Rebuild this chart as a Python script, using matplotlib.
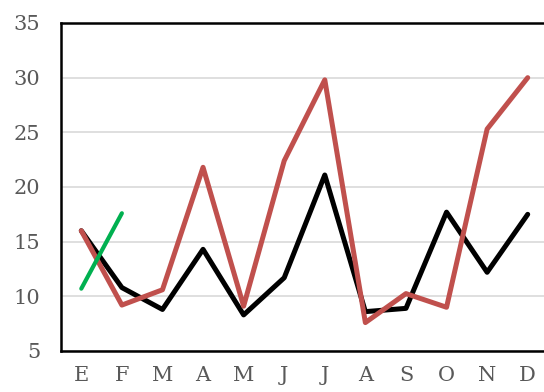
import matplotlib.pyplot as plt

months = ['E', 'F', 'M', 'A', 'M', 'J', 'J', 'A', 'S', 'O', 'N', 'D']
black_vals = [16.0, 10.8, 8.8, 14.3, 8.3, 11.7, 21.1, 8.6, 8.9, 17.7, 12.2, 17.5]
red_vals = [16.0, 9.2, 10.6, 21.8, 9.1, 22.4, 29.8, 7.6, 10.25, 9.0, 25.3, 30.0]
green_vals = [10.7, 17.6]

fig = plt.figure(figsize=(5.44, 3.92), dpi=100)
ax = fig.add_axes([61 / 544, 41 / 392, 487 / 544, 328 / 392])

x = list(range(len(months)))
ax.plot(x, black_vals, color='black', lw=3.6, solid_joinstyle='round', solid_capstyle='round', zorder=3)
ax.plot(x, red_vals, color='#C0504D', lw=3.6, solid_joinstyle='round', solid_capstyle='round', zorder=4)
ax.plot(x[:2], green_vals, color='#00B050', lw=3.0, solid_capstyle='round', zorder=5)

ax.set_xlim(-0.5, 11.5)
ax.set_ylim(5, 35)
ax.set_yticks(range(5, 36, 5))
ax.set_xticks(x)
ax.set_xticklabels(months)

ax.yaxis.grid(True, color='#D9D9D9', lw=1.2)
ax.set_axisbelow(True)
for side in ['left', 'bottom', 'top']:
    ax.spines[side].set_linewidth(1.8)
    ax.spines[side].set_color('black')
ax.spines['right'].set_visible(False)

ax.tick_params(length=0, labelsize=15, labelcolor='#595959')
ax.tick_params(axis='x', pad=11)
ax.tick_params(axis='y', pad=15)
for lab in ax.get_xticklabels() + ax.get_yticklabels():
    lab.set_family('DejaVu Serif')

fig.savefig('out.png', dpi=100)
